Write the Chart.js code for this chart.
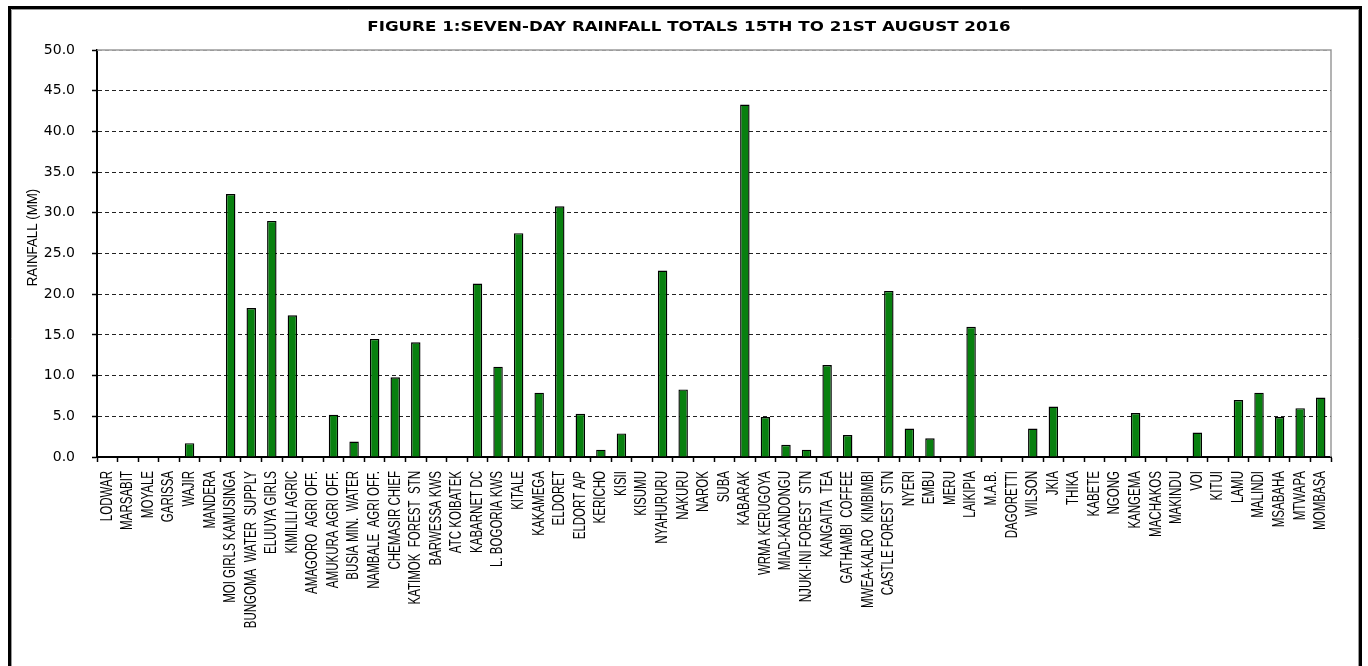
<!DOCTYPE html>
<html>
<head>
<meta charset="utf-8">
<script src="https://cdn.jsdelivr.net/npm/chart.js@4/dist/chart.umd.min.js"></script>
<style>
  html, body { margin: 0; padding: 0; background: #fff; overflow: hidden; }
  #rain { display: block; }
</style>
</head>
<body>
<canvas id="rain" width="1368" height="666"></canvas>
<script>
// stations in bulletin order
const stations = [
  'LODWAR', 'MARSABIT', 'MOYALE', 'GARISSA', 'WAJIR', 'MANDERA',
  'MOI GIRLS KAMUSINGA', 'BUNGOMA  WATER  SUPPLY', 'ELUUYA GIRLS', 'KIMILILI AGRIC',
  'AMAGORO  AGRI OFF.', 'AMUKURA AGRI OFF.', 'BUSIA MIN.  WATER', 'NAMBALE  AGRI OFF.',
  'CHEMASIR CHIEF', 'KATIMOK  FOREST  STN', 'BARWESSA KWS', 'ATC KOIBATEK',
  'KABARNET DC', 'L. BOGORIA KWS', 'KITALE', 'KAKAMEGA', 'ELDORET', 'ELDORT A/P',
  'KERICHO', 'KISII', 'KISUMU', 'NYAHURURU', 'NAKURU', 'NAROK', 'SUBA', 'KABARAK',
  'WRMA KERUGOYA', 'MIAD-KANDONGU', 'NJUKI-INI FOREST  STN', 'KANGAITA  TEA',
  'GATHAMBI  COFFEE', 'MWEA-KALRO  KIMBIMBI', 'CASTLE FOREST  STN', 'NYERI', 'EMBU',
  'MERU', 'LAIKIPIA', 'M.A.B.', 'DAGORETTI', 'WILSON', 'JKIA', 'THIKA', 'KABETE',
  'NGONG', 'KANGEMA', 'MACHAKOS', 'MAKINDU', 'VOI', 'KITUI', 'LAMU', 'MALINDI',
  'MSABAHA', 'MTWAPA', 'MOMBASA'
];

const rainfall = [
  0, 0, 0, 0, 1.7, 0,
  32.3, 18.3, 29.0, 17.4,
  0, 5.2, 1.9, 14.5,
  9.8, 14.1, 0, 0,
  21.3, 11.1, 27.5, 7.9, 30.8, 5.3,
  0.9, 2.9, 0, 22.9, 8.3, 0, 0, 43.3,
  4.9, 1.5, 0.9, 11.3,
  2.7, 0, 20.4, 3.5, 2.3,
  0, 16.0, 0, 0, 3.5, 6.2, 0, 0,
  0, 5.4, 0, 0, 3.0, 0, 7.0, 7.9,
  4.9, 6.0, 7.3
];

const yTicks = [0, 5, 10, 15, 20, 25, 30, 35, 40, 45, 50];
const chartTitle = 'FIGURE 1:SEVEN-DAY RAINFALL TOTALS 15TH TO 21ST AUGUST 2016';
const yTitle = 'RAINFALL (MM)';

// page frame (left, top, right; bottom runs off the page), title, y title
const frameAndTitle = {
  id: 'frameAndTitle',
  beforeDraw(chart) {
    const c = chart.ctx, w = chart.width, h = chart.height, a = chart.chartArea;
    c.save();
    c.fillStyle = '#fff';
    c.fillRect(0, 0, w, h);
    c.strokeStyle = '#000';
    c.lineWidth = 3;
    c.beginPath();
    c.moveTo(9.5, h + 5);
    c.lineTo(9.5, 7.5);
    c.lineTo(w - 7.5, 7.5);
    c.lineTo(w - 7.5, h + 5);
    c.stroke();
    c.strokeStyle = '#999';
    c.lineWidth = 1;
    c.beginPath();
    c.moveTo(11.5, h + 5);
    c.lineTo(11.5, 9.5);
    c.lineTo(w - 9.5, 9.5);
    c.lineTo(w - 9.5, h + 5);
    c.stroke();

    c.fillStyle = '#000';
    c.textAlign = 'center';
    c.textBaseline = 'middle';
    c.save();
    c.font = 'bold 14px "DejaVu Sans", Verdana, sans-serif';
    c.translate(689, 27.5);
    c.scale(1.19, 1);
    c.fillText(chartTitle, 0, 0);
    c.restore();

    c.save();
    c.font = '14px "Liberation Sans", Arial, sans-serif';
    c.translate(33, (a.top + a.bottom) / 2 - 16);
    c.rotate(-Math.PI / 2);
    c.scale(0.95, 1);
    c.fillText(yTitle, 0, 0);
    c.restore();
    c.restore();
  }
};

// gray frame on top/right of the plot area, like the excel plot box
const plotBox = {
  id: 'plotBox',
  afterDraw(chart) {
    const a = chart.chartArea, c = chart.ctx;
    c.save();
    c.strokeStyle = '#9a9a9a';
    c.lineWidth = 1.5;
    c.beginPath();
    c.moveTo(a.left, a.top);
    c.lineTo(a.right, a.top);
    c.lineTo(a.right, a.bottom);
    c.stroke();
    c.restore();
  }
};

// narrow vertical station names (squeezed along the text, like Arial Narrow)
const narrowLabels = {
  id: 'narrowLabels',
  afterDraw(chart) {
    const xs = chart.scales.x, c = chart.ctx;
    c.save();
    c.fillStyle = '#000';
    c.font = '16px "Liberation Sans", Arial, sans-serif';
    c.textAlign = 'right';
    c.textBaseline = 'middle';
    xs.ticks.forEach((t, i) => {
      c.save();
      c.translate(xs.getPixelForTick(i), xs.top + 14);
      c.rotate(-Math.PI / 2);
      c.scale(0.72, 1);
      c.fillText(stations[i], 0, 0);
      c.restore();
    });
    c.restore();
  }
};

new Chart(document.getElementById('rain'), {
  type: 'bar',
  data: {
    labels: stations,
    datasets: [{
      data: rainfall,
      backgroundColor: '#08800f',
      borderColor: '#000',
      borderWidth: 1.4,
      categoryPercentage: 1,
      barPercentage: 0.46
    }]
  },
  plugins: [frameAndTitle, plotBox, narrowLabels],
  options: {
    responsive: false,
    devicePixelRatio: 1,
    animation: false,
    layout: { padding: { left: 0, right: 37, top: 50, bottom: 0 } },
    plugins: {
      legend: { display: false },
      tooltip: { enabled: false },
      title: { display: false }
    },
    scales: {
      x: {
        afterFit: s => { s.height = 209; },
        grid: { display: true, drawOnChartArea: false, offset: true, tickLength: 5, tickColor: '#000', tickWidth: 1.5 },
        border: { display: true, color: '#000', width: 2 },
        ticks: { display: false, autoSkip: false }
      },
      y: {
        min: 0, max: 50,
        afterFit: s => { s.width = 97; },
        afterBuildTicks: s => { s.ticks = yTicks.map(v => ({ value: v })); },
        grid: {
          color: c => c.tick && c.tick.value === 50 ? '#9a9a9a' : (c.tick && c.tick.value === 0 ? 'rgba(0,0,0,0)' : '#222'),
          lineWidth: 1,
          tickLength: 5, tickColor: '#000', tickWidth: 1.5
        },
        border: { display: true, color: '#000', width: 2, dash: [4, 3] },
        ticks: {
          padding: 17, color: '#000',
          font: { family: "'DejaVu Sans', sans-serif", size: 14 },
          callback: v => Number(v).toFixed(1)
        },
        title: { display: false }
      }
    }
  }
});
</script>
</body>
</html>
